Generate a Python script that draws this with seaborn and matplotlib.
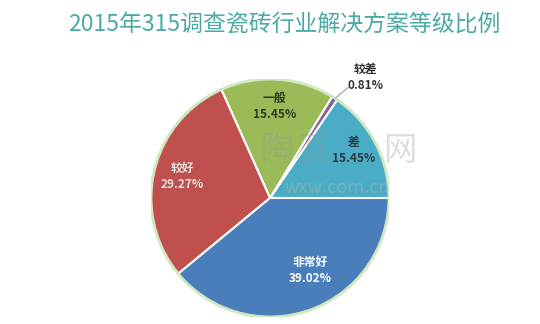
import numpy as np
import matplotlib
matplotlib.use("Agg")
import matplotlib.pyplot as plt
import seaborn as sns

categories = ["差", "较差", "一般", "较好", "非常好"]
values = [15.45, 0.81, 15.45, 29.27, 39.02]
pct_labels = ["15.45%", "0.81%", "15.45%", "29.27%", "39.02%"]
colors = ["#4bacc6", "#8064a2", "#9bbb59", "#c0504d", "#4a7ebb"]
text_colors = ["#2b3a40", "#333333", "#2e3a22", "#dfe3e6", "#ffffff"]
title = "2015年315调查瓷砖行业解决方案等级比例"

sns.set_theme(style="white")
plt.rcParams['font.family'] = ['Noto Sans CJK SC', 'DejaVu Sans']

fig = plt.figure(figsize=(5.4, 3.24), dpi=100)
fig.patch.set_facecolor("white")

cx, cy, r = 270, 198, 119
ax = fig.add_axes([(cx - r) / 540, (324 - cy - r) / 324, 2 * r / 540, 2 * r / 324])

wedges, _ = ax.pie(values, colors=colors, startangle=0, counterclock=True, radius=1.0,
                   wedgeprops=dict(edgecolor="white", linewidth=1.5))
ax.add_patch(plt.Circle((0, 0), 1.0, fill=False, edgecolor="#cfe8c0", linewidth=2.0))
ax.set_xlim(-1, 1)
ax.set_ylim(-1, 1)
ax.set_aspect("equal")
ax.axis("off")

# faint watermark
for ch, px in zip(["陶", "瓦", "网"], [277, 314, 400]):
    fig.text(px / 540, 1 - 150 / 324, ch, fontsize=24, color="#8f9696", alpha=0.3,
             ha="center", va="center", zorder=5)
fig.text(337 / 540, 1 - 188 / 324, "wxw.com.cn", fontsize=13, color="#b0b6b6", alpha=0.45,
         ha="center", va="center", zorder=5)

# label positions (relative to pie centre, in pie radius units)
label_pos = {
    "差": (0.70, 0.40),
    "一般": (0.04, 0.77),
    "较好": (-0.74, 0.18),
    "非常好": (0.34, -0.61),
}
for cat, pct, tc in zip(categories, pct_labels, text_colors):
    if cat in label_pos:
        x, y = label_pos[cat]
        ax.text(x, y, f"{cat}\n{pct}", ha="center", va="center", fontsize=8.5,
                color=tc, linespacing=1.3, fontweight="bold", zorder=6)

# small slice label with leader line
ax.plot([0.55, 0.66], [0.84, 0.93], color="#9a9a9a", linewidth=0.8, clip_on=False)
ax.text(0.80, 1.01, "较差\n0.81%", ha="center", va="center", fontsize=8.5,
        color="#333333", linespacing=1.3, fontweight="bold", clip_on=False)

fig.text(0.527, 0.922, title, fontsize=16.5, color="#4aa9a3", ha="center", va="center")

fig.savefig("out.png", dpi=100, facecolor="white")
